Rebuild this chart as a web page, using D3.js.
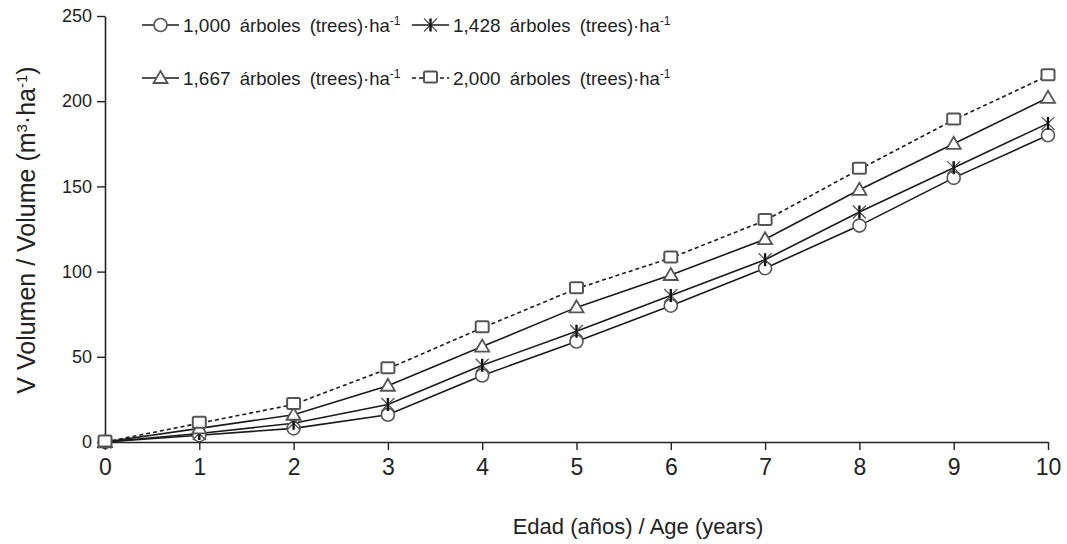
<!DOCTYPE html>
<html>
<head>
<meta charset="utf-8">
<script src="https://cdn.jsdelivr.net/npm/d3@7"></script>
<style>
  body { margin: 0; background: #fff; }
  svg text { font-family: "Liberation Sans", Arial, sans-serif; fill: #222; }
</style>
</head>
<body>
<div id="chart"></div>
<script>
const ages = [0, 1, 2, 3, 4, 5, 6, 7, 8, 9, 10];
const dens1000 = [0, 4, 8, 16, 39, 59, 80, 102, 127, 155, 180];
const dens1428 = [0, 5, 11, 22, 45, 65, 86, 107, 135, 161, 187];
const dens1667 = [0, 8, 16, 33, 56, 79, 98, 119, 148, 175, 202];
const dens2000 = [0, 11, 22, 43, 67, 90, 108, 130, 160, 189, 215];
const yTicks = [0, 50, 100, 150, 200, 250];
const seriesNames = ['1,000', '1,428', '1,667', '2,000'];

const series = [
  { name: seriesNames[0], values: dens1000, symbol: 'circle', dash: null },
  { name: seriesNames[1], values: dens1428, symbol: 'star', dash: null },
  { name: seriesNames[2], values: dens1667, symbol: 'triangle', dash: null },
  { name: seriesNames[3], values: dens2000, symbol: 'square', dash: '4,3' }
];

const W = 1067, H = 544;
const margin = { top: 16, right: 19, bottom: 102, left: 105 };
const width = W - margin.left - margin.right;
const height = H - margin.top - margin.bottom;

const svg = d3.select('#chart').append('svg')
  .attr('width', W).attr('height', H);
const g = svg.append('g').attr('transform', `translate(${margin.left},${margin.top})`);

const x = d3.scaleLinear().domain([0, 10]).range([0, width]);
const y = d3.scaleLinear().domain([0, 250]).range([height, 0]);

// axes
const xAxis = g.append('g')
  .attr('transform', `translate(0,${height})`)
  .call(d3.axisBottom(x).tickValues(ages).tickSize(8).tickPadding(9).tickSizeOuter(0));
xAxis.selectAll('text').style('font-size', '23px');

const yAxis = g.append('g')
  .call(d3.axisLeft(y).tickValues(yTicks).tickSize(8).tickPadding(5).tickSizeOuter(0));
yAxis.selectAll('text').style('font-size', '18px');

[xAxis, yAxis].forEach(a => {
  a.select('.domain').attr('stroke', '#222').attr('stroke-width', 1.6);
  a.selectAll('.tick line').attr('stroke', '#222').attr('stroke-width', 1.4);
  a.selectAll('text').attr('fill', '#222');
});

// axis titles
svg.append('text')
  .attr('x', 638).attr('y', 534)
  .attr('text-anchor', 'middle')
  .style('font-size', '22px')
  .text('Edad (años) / Age (years)');

const yTitle = svg.append('text')
  .attr('transform', `translate(35,230) rotate(-90)`)
  .attr('text-anchor', 'middle')
  .style('font-size', '25px');
yTitle.append('tspan').text('V Volumen / Volume (m');
yTitle.append('tspan').attr('dy', -8).style('font-size', '15px').text('3');
yTitle.append('tspan').attr('dy', 8).text('·ha');
yTitle.append('tspan').attr('dy', -8).style('font-size', '15px').text('-1');
yTitle.append('tspan').attr('dy', 8).text(')');

// symbols
function drawSymbol(sel, type, cx, cy) {
  const stroke = '#555';
  if (type === 'circle') {
    sel.append('circle').attr('cx', cx).attr('cy', cy).attr('r', 6.5)
      .attr('fill', '#fff').attr('stroke', stroke).attr('stroke-width', 1.6);
  } else if (type === 'square') {
    sel.append('rect').attr('x', cx - 6.5).attr('y', cy - 6.5).attr('width', 13).attr('height', 11)
      .attr('rx', 1.5).attr('fill', '#fff').attr('stroke', stroke).attr('stroke-width', 2);
  } else if (type === 'triangle') {
    sel.append('path')
      .attr('d', `M${cx},${cy - 7}L${cx + 7},${cy + 5}L${cx - 7},${cy + 5}Z`)
      .attr('fill', '#fff').attr('stroke', stroke).attr('stroke-width', 1.8);
  } else if (type === 'star') {
    const s = 6.5;
    sel.append('path')
      .attr('d', `M${cx - s},${cy - s}L${cx + s},${cy + s}M${cx + s},${cy - s}L${cx - s},${cy + s}`)
      .attr('stroke', stroke).attr('stroke-width', 1.3);
    sel.append('path')
      .attr('d', `M${cx},${cy - s}L${cx},${cy + s}`)
      .attr('stroke', '#111').attr('stroke-width', 2.4);
  }
}

const line = d3.line().x((d, i) => x(ages[i])).y(d => y(d));

series.forEach(s => {
  g.append('path')
    .datum(s.values)
    .attr('d', line)
    .attr('fill', 'none')
    .attr('stroke', '#1a1a1a')
    .attr('stroke-width', 1.6)
    .attr('stroke-dasharray', s.dash);
});
series.forEach(s => {
  const sg = g.append('g');
  s.values.forEach((v, i) => drawSymbol(sg, s.symbol, x(ages[i]), y(v)));
});

// legend, two columns x two rows
const legendPos = [
  { lx: 142, ly: 25 },
  { lx: 412, ly: 25 },
  { lx: 142, ly: 78 },
  { lx: 412, ly: 78 }
];
series.forEach((s, i) => {
  const p = legendPos[i];
  const lg = svg.append('g');
  const lx0 = p.lx, lx1 = p.lx + 37;
  lg.append('line').attr('x1', lx0).attr('x2', lx1).attr('y1', p.ly).attr('y2', p.ly)
    .attr('stroke', '#1a1a1a').attr('stroke-width', 1.6).attr('stroke-dasharray', s.dash);
  drawSymbol(lg, s.symbol, (lx0 + lx1) / 2, p.ly);
  const t = lg.append('text').attr('x', lx1 + 4).attr('y', p.ly + 7)
    .style('font-size', '19px').style('word-spacing', '4px');
  t.append('tspan').text(s.name + ' ');
  t.append('tspan').style('font-size', '18.5px').text('árboles (trees)·ha');
  t.append('tspan').attr('dy', -7).style('font-size', '12px').text('-1');
});
</script>
</body>
</html>
